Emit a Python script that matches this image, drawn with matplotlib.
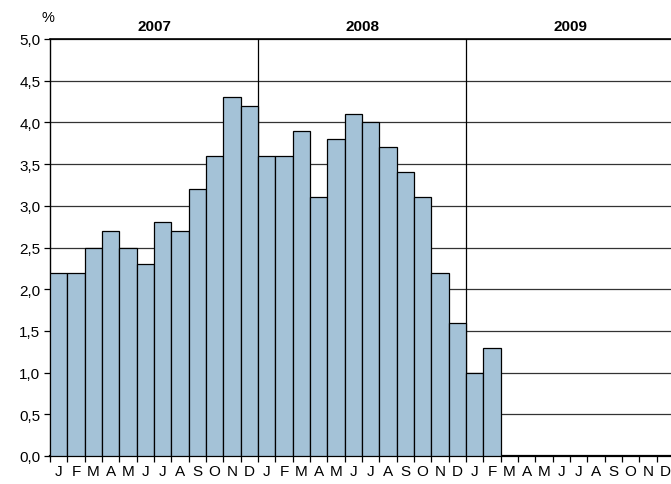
import numpy as np
import matplotlib.pyplot as plt

plt.rcParams['font.family'] = ['Liberation Sans', 'DejaVu Sans']

months = list('JFMAMJJASOND') * 3
years = ['2007', '2008', '2009']
values = [2.2, 2.2, 2.5, 2.7, 2.5, 2.3, 2.8, 2.7, 3.2, 3.6, 4.3, 4.2,
          3.6, 3.6, 3.9, 3.1, 3.8, 4.1, 4.0, 3.7, 3.4, 3.1, 2.2, 1.6,
          1.0, 1.3]

fig = plt.figure(figsize=(6.71, 4.85), dpi=100)
ax = fig.add_axes([50 / 671, 28 / 485, 624 / 671, 417 / 485])

x = np.arange(len(values))
ax.bar(x + 0.5, values, width=1.0, color='#a4c2d7', edgecolor='black',
       linewidth=0.9, zorder=3)

for yv in np.arange(0.5, 5.01, 0.5):
    ax.axhline(yv, color='#333333', linewidth=0.9, zorder=1)
for xv in [12, 24]:
    ax.axvline(xv, color='black', linewidth=0.9, zorder=1)

ax.set_xlim(0, 36)
ax.set_ylim(0, 5)
ax.set_yticks(np.arange(0, 5.01, 0.5))
ax.set_yticklabels([f'{v:.1f}'.replace('.', ',') for v in np.arange(0, 5.01, 0.5)],
                   fontsize=11)
ax.set_xticks(np.arange(0, 37))
ax.set_xticklabels([])
ax.set_xticks(np.arange(36) + 0.5, minor=True)
ax.set_xticklabels(months, minor=True, fontsize=11)
ax.tick_params(axis='x', which='major', length=4, width=0.9, direction='out')
ax.tick_params(axis='x', which='minor', length=0, pad=6)
ax.tick_params(axis='y', length=4, width=0.9, pad=3)

ax.spines['right'].set_visible(False)
ax.spines['bottom'].set_linewidth(1.6)
ax.spines['left'].set_linewidth(1.0)
ax.spines['top'].set_linewidth(1.2)

for i, yr in enumerate(years):
    ax.text(i * 12 + 6, 5.07, yr, ha='center', va='bottom', fontsize=11,
            fontweight='bold')
ax.text(-0.5, 5.18, '%', ha='left', va='bottom', fontsize=10.5)

fig.savefig('out.png', dpi=100)
